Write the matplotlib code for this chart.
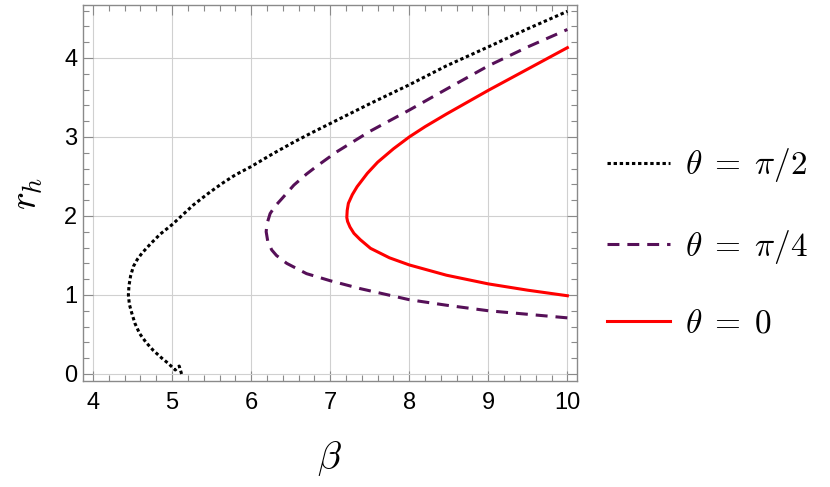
import numpy as np
import matplotlib
matplotlib.use("Agg")
import matplotlib.pyplot as plt
from matplotlib.ticker import MultipleLocator

plt.rcParams['mathtext.fontset'] = 'cm'
plt.rcParams['font.family'] = ['Liberation Sans', 'DejaVu Sans']

# theta = pi/2 (black dotted)
beta_half = [5.12, 5.09, 5.04, 4.95, 4.87, 4.76, 4.67, 4.59, 4.53, 4.49, 4.46, 4.447,
             4.455, 4.475, 4.51, 4.56, 4.62, 4.73, 4.85, 5.0, 5.27, 5.45, 5.63, 5.80,
             6.0, 6.27, 6.54, 6.77, 7.0, 7.5, 8.0, 8.47, 9.0, 9.5, 10.0]
r_half = [0.0, 0.10, 0.05, 0.135, 0.20, 0.30, 0.40, 0.51, 0.64, 0.77, 0.88, 1.0,
          1.12, 1.24, 1.36, 1.45, 1.53, 1.65, 1.77, 1.89, 2.14, 2.28, 2.41, 2.52,
          2.625, 2.785, 2.935, 3.055, 3.17, 3.42, 3.66, 3.90, 4.14, 4.37, 4.59]

# theta = pi/4 (purple dashed)
beta_quarter = [10.0, 9.5, 9.0, 8.47, 8.0, 7.38, 7.0, 6.70, 6.45, 6.32, 6.26, 6.21,
                6.19, 6.20, 6.24, 6.30, 6.39, 6.54, 6.70, 6.83, 7.08, 7.5, 8.0, 8.47,
                9.0, 9.5, 10.0]
r_quarter = [0.71, 0.755, 0.80, 0.87, 0.94, 1.08, 1.18, 1.27, 1.40, 1.50, 1.57, 1.68,
             1.80, 1.90, 2.03, 2.12, 2.22, 2.39, 2.53, 2.63, 2.81, 3.07, 3.34, 3.605,
             3.90, 4.14, 4.36]

# theta = 0 (red solid)
beta_zero = [10.0, 9.5, 9.0, 8.47, 8.0, 7.75, 7.51, 7.38, 7.30, 7.25, 7.22, 7.21,
             7.215, 7.23, 7.28, 7.34, 7.47, 7.6, 7.8, 8.0, 8.2, 8.47, 9.0, 9.5, 10.0]
r_zero = [0.99, 1.06, 1.14, 1.25, 1.38, 1.47, 1.59, 1.70, 1.78, 1.86, 1.93, 1.98,
          2.07, 2.16, 2.27, 2.37, 2.54, 2.68, 2.85, 3.0, 3.13, 3.29, 3.59, 3.86, 4.13]

labels = [r'$\theta\;=\;\pi/2$', r'$\theta\;=\;\pi/4$', r'$\theta\;=\;0$']

fig = plt.figure(figsize=(8.3, 4.87), dpi=100)
ax = fig.add_axes([0.1, 0.2177, 0.595, 0.772])

lw = 2.2
ax.plot(beta_half, r_half, color='black', lw=lw, dashes=(1.1, 0.9), label=labels[0])
ax.plot(beta_quarter, r_quarter, color='#561058', lw=lw, dashes=(3.9, 2.6), label=labels[1])
ax.plot(beta_zero, r_zero, color='red', lw=lw, solid_joinstyle='round', label=labels[2])

ax.set_xlim(3.873, 10.12)
ax.set_ylim(-0.089, 4.67)
ax.xaxis.set_major_locator(MultipleLocator(1))
ax.xaxis.set_minor_locator(MultipleLocator(0.2))
ax.yaxis.set_major_locator(MultipleLocator(1))
ax.yaxis.set_minor_locator(MultipleLocator(0.2))
ax.grid(True, which='major', color='#d0d0d0', lw=0.8)

for s in ax.spines.values():
    s.set_color('#8a8a8a')
    s.set_linewidth(1.0)
ax.tick_params(which='both', direction='in', top=True, right=True, color='#8a8a8a',
               labelsize=17, width=0.8)
ax.tick_params(which='major', length=7)
ax.tick_params(which='minor', length=4)
ax.tick_params(axis='x', pad=8)
ax.tick_params(axis='y', pad=4)

ax.set_xlabel(r'$\beta$', fontsize=28)
ax.set_ylabel(r'$r_h$', fontsize=27)
ax.xaxis.set_label_coords(0.5, -0.155)
ax.yaxis.set_label_coords(-0.077, 0.5)

ax.legend(loc='center left', bbox_to_anchor=(1.034, 0.367), frameon=False, fontsize=24,
          handlelength=1.89, handletextpad=0.45, labelspacing=1.3, borderaxespad=0.0,
          borderpad=0.4)

fig.savefig('out.png', dpi=100)
